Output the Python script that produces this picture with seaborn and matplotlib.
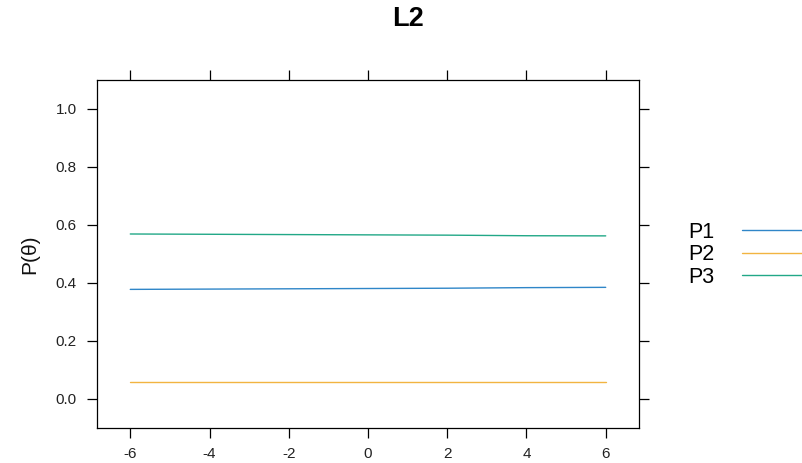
import matplotlib
matplotlib.use("Agg")
import matplotlib.pyplot as plt
import seaborn as sns
import pandas as pd

theta = [-6, -4, -2, 0, 2, 4, 6]
p1 = [0.378, 0.379, 0.380, 0.381, 0.382, 0.384, 0.385]
p2 = [0.057, 0.057, 0.057, 0.057, 0.057, 0.057, 0.057]
p3 = [0.569, 0.568, 0.567, 0.566, 0.565, 0.563, 0.5625]
categories = ["P1", "P2", "P3"]
colors = {"P1": "#2F86C8", "P2": "#F2B441", "P3": "#22A887"}
xticks = [-6, -4, -2, 0, 2, 4, 6]
yticks = [0.0, 0.2, 0.4, 0.6, 0.8, 1.0]

df = pd.DataFrame({
    "theta": theta * 3,
    "P": p1 + p2 + p3,
    "cat": [c for c in categories for _ in theta],
})

sns.set_theme(style="white")
plt.rcParams["font.family"] = ["Liberation Sans", "DejaVu Sans"]

fig = plt.figure(figsize=(8.03, 4.63), dpi=100)
ax = fig.add_axes([97 / 803, 1 - 428 / 463, (639 - 97) / 803, (428 - 80) / 463])
sns.lineplot(data=df, x="theta", y="P", hue="cat", palette=colors, ax=ax,
             linewidth=1.0, legend=False)

ax.set_xlim(-6.84, 6.84)
ax.set_ylim(-0.1, 1.1)
ax.set_xticks(xticks)
ax.set_xticklabels([str(t) for t in xticks])
ax.set_yticks(yticks)
ax.set_yticklabels([f"{t:.1f}" for t in yticks])
ax.tick_params(axis="both", which="both", direction="out", length=7.5, width=0.9,
               color="black", labelsize=11, labelcolor="#222222", pad=7,
               bottom=True, top=True, left=True, right=True,
               labeltop=False, labelright=False)
ax.tick_params(axis="x", pad=6.5)
for s in ax.spines.values():
    s.set_color("black")
    s.set_linewidth(0.9)
ax.set_xlabel("")
ax.set_ylabel("P(θ)", fontsize=15, color="#111111", labelpad=12)

fig.text(408 / 803, 1 - 19 / 463, "L2", ha="center", va="center",
         fontsize=19.5, fontweight="bold", color="black")

handles = ax.get_lines()[:3]
leg = fig.legend(handles, categories, loc="upper left",
                 bbox_to_anchor=(688 / 803, 1 - 222 / 463),
                 frameon=False, fontsize=15.5, markerfirst=False,
                 handlelength=3.2, handletextpad=1.3, labelspacing=0.06,
                 borderpad=0, borderaxespad=0)
for t in leg.get_texts():
    t.set_color("black")

fig.savefig("out.png", dpi=100)
